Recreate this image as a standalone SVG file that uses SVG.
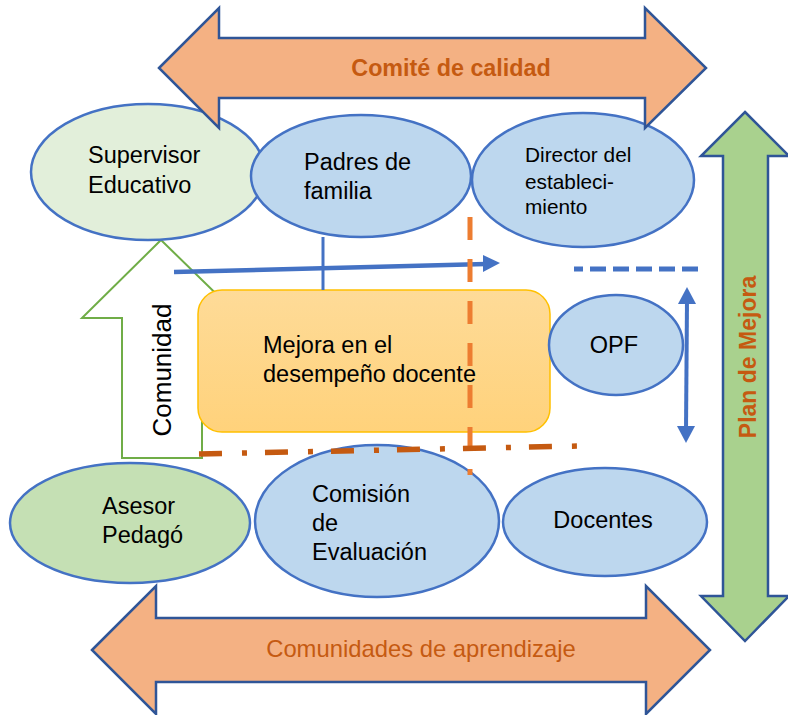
<svg xmlns="http://www.w3.org/2000/svg" width="788" height="715" viewBox="0 0 788 715">
<defs>
<linearGradient id="gMej" x1="0" y1="0" x2="0" y2="1">
<stop offset="0" stop-color="#FEDB98"/>
<stop offset="1" stop-color="#FFD27B"/>
</linearGradient>
</defs>
<style>
text{font-family:"Liberation Sans",Arial,sans-serif;fill:#000;}
.t{font-size:23.5px;}
.el{stroke:#4472C4;stroke-width:2.5;}
.blue{fill:#BDD7EE;}
.big{fill:#F4B183;stroke:#2F5597;stroke-width:2.5;}
</style>
<rect width="788" height="715" fill="#fff"/>

<g id="comunidad">
<polygon points="161,240 241,318 202,318 202,458 122,458 122,318 82,318" fill="#fff" stroke="#70AD47" stroke-width="2"/>
<text style="font-size:26px" transform="translate(171,370) rotate(-90)" text-anchor="middle">Comunidad</text>
</g>

<g id="supervisor">
<ellipse class="el" cx="148" cy="172" rx="117" ry="68" fill="#E2EFDA"/>
<text class="t" x="88" y="163">Supervisor</text>
<text class="t" x="88" y="193">Educativo</text>
</g>
<g id="padres">
<ellipse class="el blue" cx="361" cy="176" rx="110" ry="61"/>
<text class="t" x="304" y="170">Padres de</text>
<text class="t" x="304" y="199">familia</text>
</g>
<g id="director">
<ellipse class="el blue" cx="583" cy="180" rx="111" ry="67"/>
<text x="525" y="162" style="font-size:20.8px">Director del</text>
<text x="525" y="189" style="font-size:20.8px">estableci-</text>
<text x="525" y="214" style="font-size:20.8px">miento</text>
</g>

<g id="comite">
<polygon class="big" points="159,68 219,8 219,38 645,38 645,8 706,68 645,128 645,98 219,98 219,128"/>
<text x="451" y="76" text-anchor="middle" style="font-size:23.3px;font-weight:bold;fill:#C55A11">Comité de calidad</text>
</g>

<g id="mejora">
<rect x="198" y="290" width="352" height="142" rx="24" fill="url(#gMej)" stroke="#FFC000" stroke-width="1.5"/>
<text class="t" x="263" y="353">Mejora en el</text>
<text class="t" x="263" y="382">desempeño docente</text>
</g>

<g id="opf">
<ellipse class="el blue" cx="616" cy="345" rx="67" ry="50"/>
<text class="t" x="614" y="353" text-anchor="middle">OPF</text>
</g>

<g id="asesor">
<ellipse class="el" cx="130" cy="523" rx="120" ry="60" fill="#C5E0B4"/>
<text class="t" x="102" y="514">Asesor</text>
<text class="t" x="102" y="543">Pedagó</text>
</g>
<g id="comision">
<ellipse class="el blue" cx="377" cy="521" rx="122" ry="76"/>
<text class="t" x="312" y="502">Comisión</text>
<text class="t" x="312" y="531">de</text>
<text class="t" x="312" y="560">Evaluación</text>
</g>
<g id="docentes">
<ellipse class="el blue" cx="605" cy="522" rx="102" ry="54"/>
<text class="t" x="603" y="528" text-anchor="middle">Docentes</text>
</g>

<g id="comunidades">
<polygon class="big" points="92,650 156,586 156,618 646,618 646,586 710,650 646,714 646,682 156,682 156,714"/>
<text x="421" y="657" text-anchor="middle" style="font-size:23.8px;fill:#C55A11">Comunidades de aprendizaje</text>
</g>

<g id="plan">
<polygon points="745,112 789,156 768,156 768,596 789,596 745,641 701,596 723,596 723,156 701,156" fill="#A9D18E" stroke="#2F5597" stroke-width="2.5"/>
<text transform="translate(756,357) rotate(-90)" text-anchor="middle" style="font-size:23px;font-weight:bold;fill:#C55A11">Plan de Mejora</text>
</g>

<g id="connectors">
<line x1="323" y1="237" x2="323" y2="290" stroke="#4472C4" stroke-width="3"/>
<line x1="174" y1="272" x2="486" y2="264" stroke="#4472C4" stroke-width="4.5"/>
<polygon points="500,263 483,255 483,272" fill="#4472C4"/>
<line x1="698" y1="269" x2="574" y2="269" stroke="#4472C4" stroke-width="5" stroke-dasharray="16 7"/>
<line x1="687" y1="300" x2="686" y2="430" stroke="#4472C4" stroke-width="4"/>
<polygon points="687,287 678,304 696,304" fill="#4472C4"/>
<polygon points="686,443 677,426 695,426" fill="#4472C4"/>
<line x1="470" y1="217" x2="470" y2="475" stroke="#ED7D31" stroke-width="5" stroke-dasharray="23 19"/>
<line x1="199" y1="454" x2="578" y2="446" stroke="#C55A11" stroke-width="5.5" stroke-dasharray="23 20 5 18"/>
</g>
</svg>
